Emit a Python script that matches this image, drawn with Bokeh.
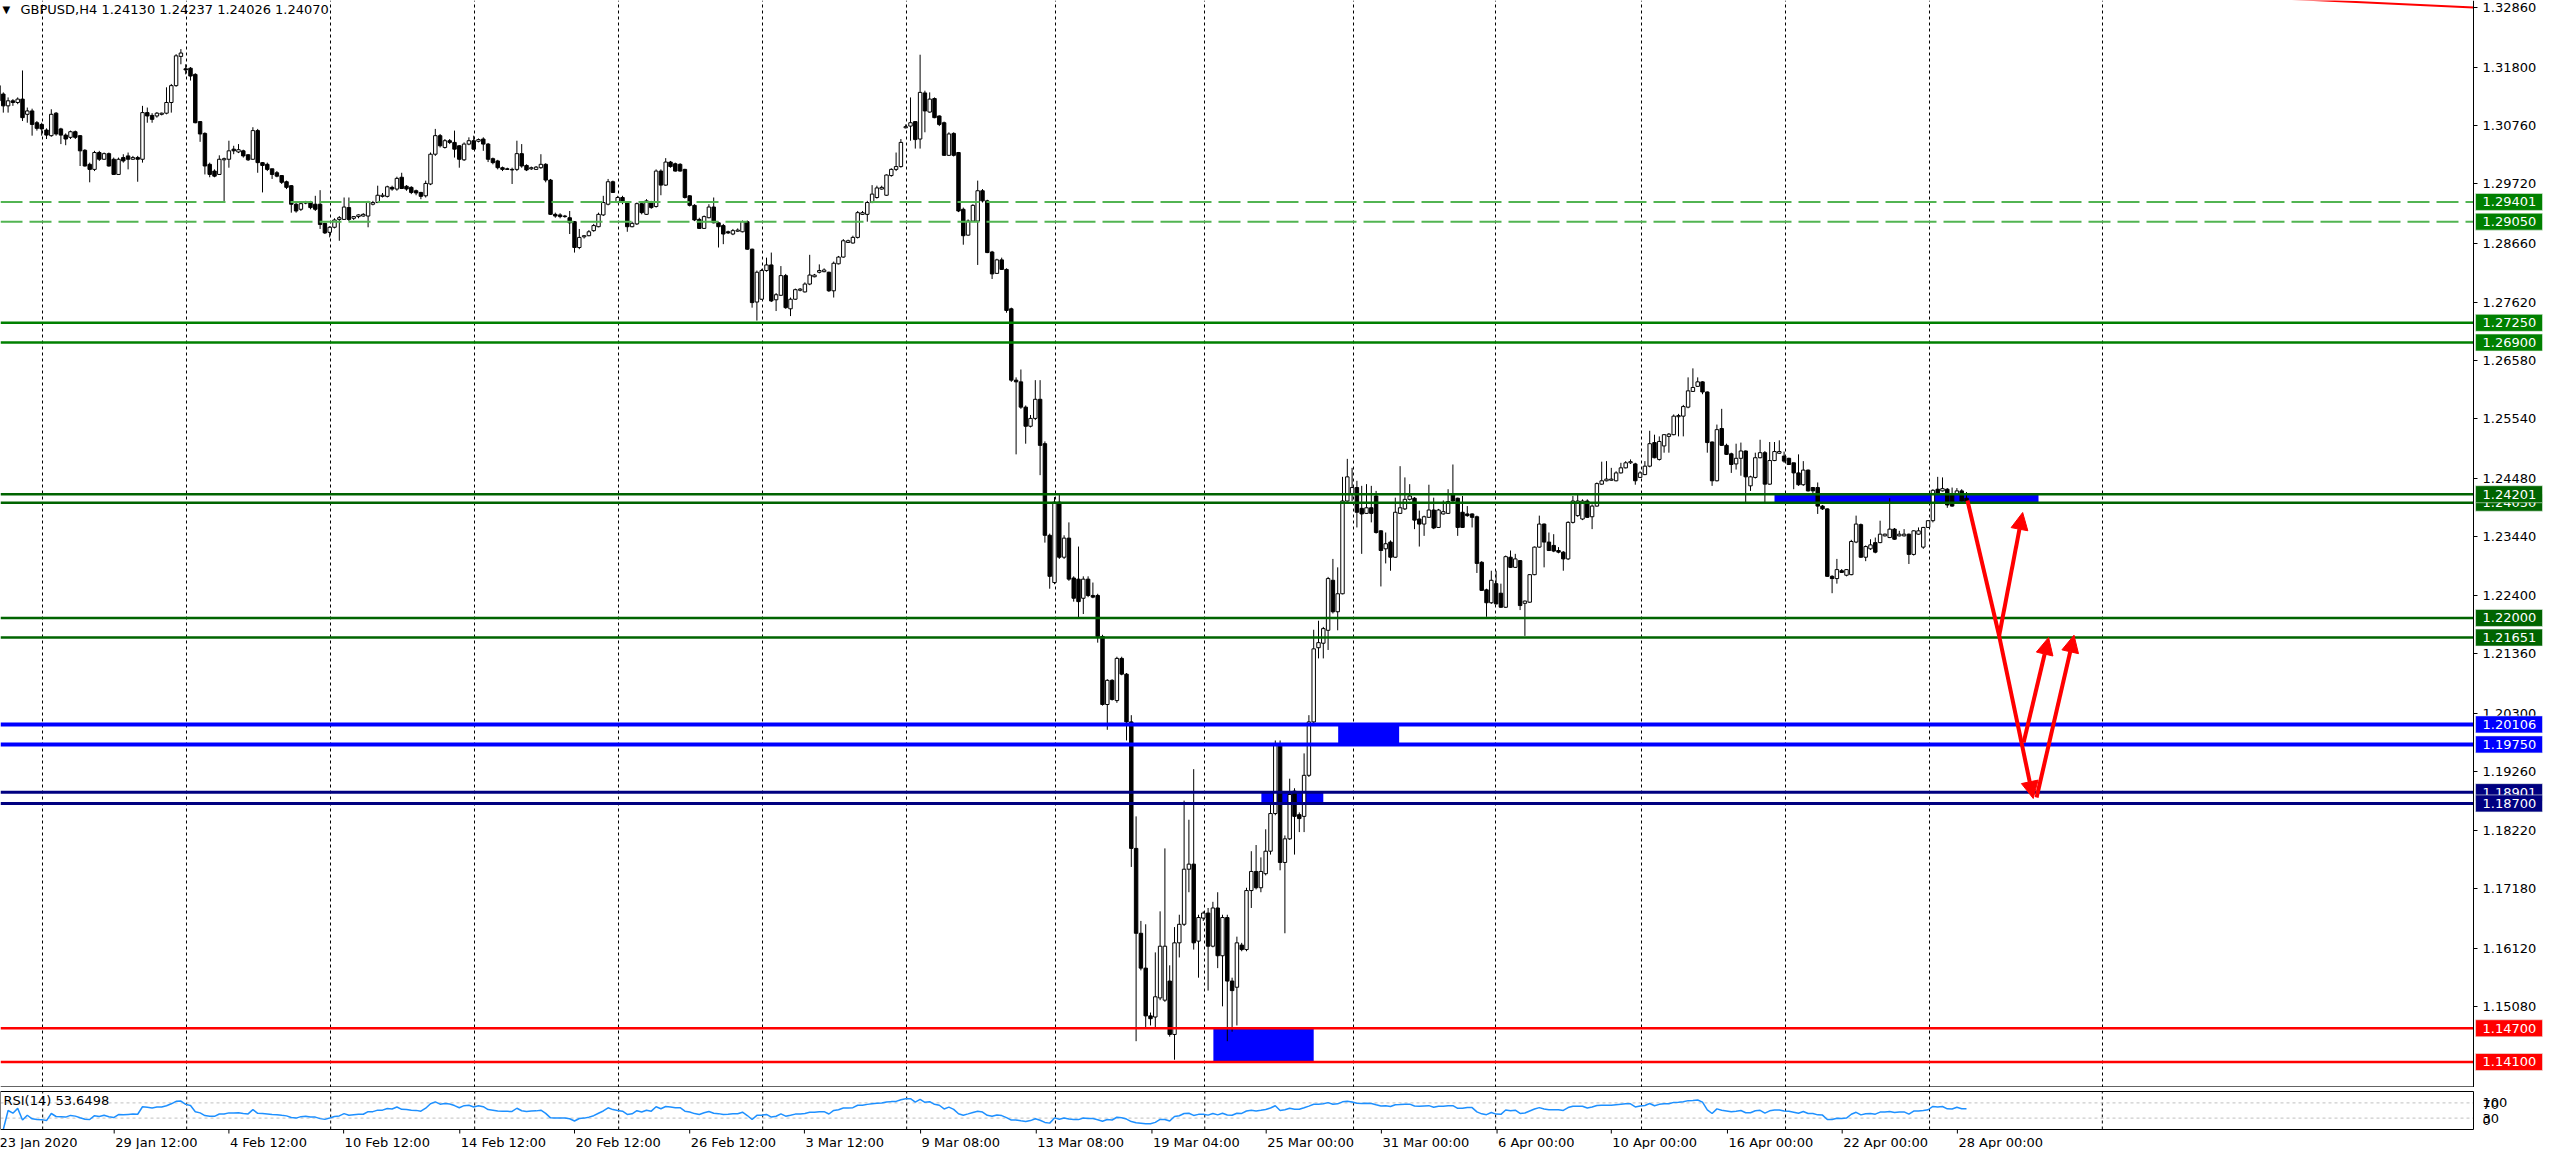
import math
from bokeh.plotting import figure
from bokeh.models import (Label, FixedTicker, PrintfTickFormatter, Grid,
                          Arrow, NormalHead, Range1d)
from bokeh.core.properties import value
from bokeh.layouts import column
from bokeh.embed import file_html
from bokeh.resources import INLINE

# ------------------------------------------------------------------ data
SYMBOL_TEXT = "GBPUSD,H4  1.24130 1.24237 1.24026 1.24070"
RSI_TEXT = "RSI(14) 53.6498"

# GBPUSD H4 candles, prices in 1/10000
open_pips = [
    13147,13132,13111,13120,13117,13123,13096,13102,13081,13078,
    13068,13058,13098,13070,13059,13055,13065,13058,13032,13007,
    12998,13028,13016,13026,13016,12989,13019,13022,13016,13019,
    13016,13099,13094,13093,13096,13098,13117,13147,13199,13177,
    13178,13167,13083,13062,13007,12995,12989,13015,13016,13034,
    13029,13031,13024,13016,13067,13010,13007,12999,12992,12987,
    12976,12969,12936,12927,12938,12940,12936,12936,12902,12886,
    12895,12909,12909,12930,12911,12914,12915,12915,12936,12939,
    12950,12950,12966,12963,12984,12968,12966,12960,12957,12951,
    12972,13025,13058,13037,13049,13046,13040,13015,13043,13049,
    13048,13052,13043,
    13017,13013,13001,12999,12998,12998,13026,
    13005,12999,12998,13001,13007,12979,12918,12917,12915,12912,
    12905,12859,12878,12880,12889,12896,12917,12936,12976,12939,
    12948,12939,12896,12901,12937,12918,12939,12932,12995,12970,
    13011,13008,13007,12998,12951,12934,12909,12893,12912,12931,
    12903,12898,12887,12883,12888,12887,12905,12856,12762,12767,
    12818,12828,12766,12774,12809,12750,12767,12783,12780,12794,
    12807,12815,12816,12815,12782,12830,12842,12868,12867,12877,
    12918,12918,12939,12948,12963,12952,12987,12998,13003,13072,
    13075,13083,13052,13134,13100,13124,13093,13081,13023,13062,
    13028,12927,12881,12906,12906,12960,12942,12851,12813,12837,
    12820,12750,12623,12620,12575,12541,12555,12589,12510,12347,
    12263,12406,12308,12342,12271,12269,12235,12269,12240,12240,
    12167,12046,12089,12053,12128,12100,12015,11790,11639,11577,
    11492,11490,11524,11520,11554,11459,11622,11655,11753,11762,
    11625,11666,11675,11616,11684,11599,11667,11554,11543,11618,
    11610,11715,11749,11720,11745,11785,11852,11976,11765,11807,
    11892,11850,11847,11920,12015,12147,12155,12178,12267,12211,
    12243,12408,12420,12432,12395,12386,12396,12417,12355,12323,
    12335,12308,12386,12394,12411,12413,12376,12367,12379,12392,
    12361,12385,12386,12419,12413,12388,12385,12385,12380,12299,
    12250,12227,12261,12244,12219,12308,12290,12302,12226,12228,
    12277,12326,12367,12335,12329,12320,12317,12305,12370,12382,
    12376,12408,12380,12399,12438,12444,12445,12444,12458,12467,
    12476,12474,12450,12455,12470,12512,12482,12506,12523,12526,
    12558,12559,12575,12603,12612,12620,12602,12513,12444,12537,
    12507,12492,12474,12484,12497,12435,12450,12485,12494,12438,
    12480,12493,12488,12484,12476,12458,12437,12463,12432,12432,
    12399,12394,12274,12270,12284,12276,12277,12335,12366,12308,
    12323,12334,12334,12346,12343,12358,12346,12346,12349,12313,
    12349,12326,12361,12373,12429,12426,12429,12420,12420,12426,12413,
]
high_pips = [
    13150,13135,13126,13123,13126,13174,13108,13106,13084,13081,
    13071,13105,13100,13072,13062,13067,13067,13059,13034,13010,
    13031,13031,13028,13028,13019,13019,13025,13028,13022,13022,
    13111,13108,13098,13100,13099,13144,13150,13203,13212,13185,
    13180,13169,13084,13064,13010,12998,13023,13019,13049,13040,
    13043,13033,13025,13073,13070,13011,13010,12999,12995,12988,
    12978,12970,12939,12939,12942,12942,12951,12961,12903,12897,
    12911,12915,12948,12948,12915,12918,12920,12942,12942,12969,
    12956,12969,12969,12985,12992,12970,12968,12962,12958,12978,
    13028,13070,13061,13052,13052,13067,13041,13046,13055,13058,
    13053,13055,13045,
    13019,13015,13003,13001,13001,13049,13043,
    13007,13003,13004,13025,13009,12981,12921,12920,12917,12924,
    12906,12892,12881,12890,12901,12921,12951,12981,12978,12951,
    12951,12940,12905,12939,12939,12945,12942,12998,12998,13018,
    13013,13010,13009,12999,12952,12936,12912,12916,12936,12948,
    12905,12901,12889,12892,12893,12907,12907,12857,12818,12821,
    12841,12850,12778,12826,12812,12770,12786,12787,12797,12846,
    12812,12829,12822,12816,12834,12844,12874,12873,12880,12924,
    12924,12942,12970,12969,12969,12989,13000,13028,13052,13078,
    13126,13084,13202,13138,13135,13126,13094,13083,13064,13064,
    13029,12930,12909,12936,12978,12963,12944,12853,12839,12841,
    12822,12752,12628,12642,12578,12561,12623,12623,12514,12350,
    12415,12420,12347,12370,12274,12327,12274,12274,12263,12243,
    12170,12091,12091,12131,12131,12102,12027,11847,11661,11655,
    11498,11605,11678,11790,11582,11650,11672,11875,11841,11931,
    11672,11678,11684,11695,11712,11672,11672,11560,11633,11622,
    11720,11785,11796,11774,11824,11869,11982,11982,11813,11914,
    11897,11854,11959,12027,12179,12195,12184,12273,12305,12290,
    12451,12483,12467,12444,12435,12438,12435,12426,12356,12352,
    12338,12414,12470,12450,12438,12415,12391,12382,12437,12414,
    12394,12409,12429,12473,12414,12417,12399,12386,12382,12301,
    12252,12284,12284,12261,12311,12320,12314,12303,12231,12278,
    12327,12382,12368,12352,12349,12326,12319,12372,12417,12420,
    12411,12411,12402,12441,12478,12479,12467,12461,12476,12479,
    12482,12476,12461,12479,12533,12526,12523,12527,12529,12562,
    12563,12579,12628,12644,12628,12621,12603,12514,12544,12572,
    12510,12494,12510,12512,12498,12453,12494,12517,12497,12513,
    12513,12516,12496,12485,12476,12491,12479,12464,12433,12441,
    12401,12395,12276,12305,12287,12287,12339,12382,12368,12329,
    12340,12343,12373,12350,12413,12360,12355,12358,12350,12356,
    12361,12362,12374,12429,12451,12450,12431,12432,12431,12429,12424,
]
low_pips = [
    13117,13099,13099,13111,13114,13084,13081,13058,13067,13058,
    13052,13056,13058,13043,13041,13052,13052,13004,13003,12975,
    12995,13013,13015,13003,12988,12988,13010,12998,13015,12976,
    13010,13081,13081,13090,13094,13096,13099,13145,13185,13167,
    13156,13080,13047,12989,12984,12984,12988,12941,13001,13025,
    13027,13019,13013,13015,12992,12957,12995,12981,12984,12972,
    12963,12921,12921,12924,12936,12927,12924,12892,12883,12877,
    12893,12871,12908,12906,12908,12911,12914,12895,12934,12938,
    12948,12948,12960,12960,12963,12960,12954,12952,12945,12948,
    12970,13022,13037,13035,13043,13019,13001,13013,13041,13033,
    13046,13031,13011,
    13007,12998,12995,12997,12972,12995,13001,
    12995,12997,12997,12999,12975,12917,12912,12911,12912,12883,
    12850,12856,12875,12879,12887,12895,12915,12934,12956,12938,
    12936,12887,12895,12899,12918,12917,12928,12930,12952,12969,
    13001,12994,12994,12946,12932,12906,12892,12892,12911,12902,
    12859,12865,12883,12881,12887,12886,12855,12752,12729,12766,
    12816,12762,12746,12773,12750,12737,12766,12781,12779,12792,
    12806,12813,12815,12780,12770,12829,12841,12867,12866,12875,
    12917,12905,12938,12946,12962,12951,12985,12995,13001,13071,
    13049,13035,13035,13064,13099,13089,13075,13022,13022,13021,
    12922,12864,12880,12905,12828,12939,12849,12803,12812,12819,
    12743,12620,12491,12572,12510,12539,12552,12454,12334,12252,
    12260,12305,12305,12266,12229,12201,12207,12237,12235,12156,
    12044,12001,12053,12049,12098,11982,11757,11447,11573,11472,
    11475,11470,11520,11517,11455,11414,11596,11652,11712,11610,
    11560,11661,11537,11614,11577,11509,11447,11464,11475,11607,
    11607,11684,11717,11712,11742,11779,11849,11751,11639,11805,
    11779,11819,11819,11917,12012,12128,12128,12143,12208,12178,
    12242,12407,12408,12361,12314,12385,12370,12350,12256,12297,
    12284,12307,12385,12392,12409,12358,12327,12346,12378,12358,
    12360,12384,12385,12407,12346,12360,12380,12361,12280,12248,
    12202,12225,12224,12218,12218,12289,12289,12214,12168,12227,
    12276,12325,12290,12319,12317,12315,12284,12303,12368,12380,
    12374,12378,12358,12398,12437,12443,12444,12443,12457,12466,
    12474,12437,12449,12454,12468,12484,12480,12494,12494,12525,
    12523,12523,12573,12602,12611,12598,12494,12435,12443,12506,
    12490,12458,12464,12453,12405,12426,12448,12484,12405,12437,
    12479,12492,12476,12472,12429,12435,12435,12425,12420,12385,
    12392,12273,12244,12261,12280,12274,12276,12333,12307,12301,
    12321,12315,12333,12345,12342,12339,12345,12345,12296,12311,
    12348,12323,12360,12370,12420,12425,12396,12398,12419,12407,12403,
]
close_pips = [
    13120,13111,13120,13117,13123,13090,13102,13078,13071,13070,
    13059,13096,13061,13059,13052,13065,13055,13031,13004,12998,
    13028,13016,13026,13004,12989,13016,13013,13016,13019,13016,
    13099,13093,13087,13098,13098,13117,13147,13200,13205,13175,
    13164,13081,13061,13004,12989,12986,13016,13017,13031,13031,
    13033,13022,13015,13067,13010,13005,12998,12989,12986,12975,
    12966,12936,12924,12937,12940,12930,12927,12900,12885,12895,
    12908,12912,12931,12909,12914,12917,12918,12939,12939,12952,
    12952,12967,12963,12982,12964,12963,12957,12956,12950,12973,
    13025,13058,13040,13049,13046,13034,13016,13043,13049,13034,
    13051,13043,13016,
    13010,13001,12998,12998,12997,13026,13004,
    12997,13001,13002,13007,12979,12918,12915,12914,12914,12903,
    12859,12877,12880,12887,12898,12918,12939,12976,12957,12948,
    12939,12896,12902,12937,12921,12942,12930,12995,12970,13011,
    13003,12995,12995,12948,12934,12908,12893,12914,12931,12903,
    12896,12883,12885,12889,12890,12905,12856,12761,12815,12818,
    12828,12764,12775,12809,12752,12767,12784,12785,12794,12810,
    12810,12818,12819,12782,12831,12842,12871,12871,12877,12921,
    12921,12939,12954,12965,12966,12988,12998,13003,13046,13074,
    13081,13051,13135,13102,13123,13090,13078,13023,13061,13023,
    12924,12880,12906,12934,12960,12942,12850,12812,12837,12820,
    12747,12623,12620,12575,12541,12555,12589,12507,12347,12274,
    12406,12308,12342,12269,12235,12229,12269,12240,12237,12167,
    12046,12089,12055,12128,12100,12015,11790,11639,11577,11492,
    11487,11526,11616,11616,11459,11622,11655,11753,11762,11622,
    11667,11675,11616,11684,11599,11667,11554,11537,11622,11610,
    11715,11749,11720,11749,11785,11852,11976,11765,11807,11886,
    11847,11843,11920,12015,12145,12156,12181,12270,12211,12243,
    12408,12451,12432,12388,12385,12396,12386,12352,12320,12332,
    12308,12388,12396,12411,12417,12374,12367,12380,12392,12360,
    12392,12389,12407,12408,12361,12361,12382,12379,12297,12249,
    12227,12267,12225,12219,12309,12290,12305,12222,12230,12277,
    12326,12367,12335,12320,12319,12317,12305,12370,12408,12408,
    12408,12379,12399,12439,12444,12447,12447,12458,12467,12476,
    12478,12444,12458,12470,12510,12485,12514,12526,12527,12559,
    12560,12576,12604,12610,12620,12602,12512,12444,12535,12507,
    12491,12473,12484,12497,12451,12451,12485,12494,12438,12480,
    12496,12496,12479,12473,12458,12437,12463,12426,12426,12399,
    12394,12274,12270,12286,12281,12286,12336,12367,12308,12327,
    12330,12317,12349,12349,12358,12340,12349,12349,12313,12355,
    12355,12361,12373,12427,12421,12430,12401,12399,12426,12408,12407,
]

price_ticks = [1.32860, 1.31800, 1.30760, 1.29720, 1.28660, 1.27620, 1.26580,
               1.25540, 1.24480, 1.23440, 1.22400, 1.21360, 1.20300, 1.19260,
               1.18220, 1.17180, 1.16120, 1.15080]

time_labels = ["23 Jan 2020", "29 Jan 12:00", "4 Feb 12:00", "10 Feb 12:00",
               "14 Feb 12:00", "20 Feb 12:00", "26 Feb 12:00", "3 Mar 12:00",
               "9 Mar 08:00", "13 Mar 08:00", "19 Mar 04:00", "25 Mar 00:00",
               "31 Mar 00:00", "6 Apr 00:00", "10 Apr 00:00", "16 Apr 00:00",
               "22 Apr 00:00", "28 Apr 00:00"]
time_label_bars = [0, 24.1, 48, 71.9, 96.1, 120, 144, 167.9, 192.1, 216.2,
                   240.3, 264.1, 288.1, 312.2, 336, 360.2, 384.1, 408.1]
week_start_bars = [9.2, 39.2, 69.2, 99.2, 129.2, 159.2, 189.2, 220.2, 251.3,
                   282.3, 311.9, 342.3, 372.3, 402.3, 438.3]

dashed_levels = [1.29401, 1.29050]
green_levels = [1.27250, 1.26900]
darkgreen_levels = [1.24050, 1.24201, 1.22000, 1.21651]
blue_levels = [1.20106, 1.19750]
navy_levels = [1.18901, 1.18700]
red_levels = [1.14700, 1.14100]

zone_left = [370.0, 279.1, 263.1, 253.1]
zone_right = [425.0, 291.8, 276.0, 274.0]
zone_bottom = [1.24050, 1.19750, 1.18700, 1.14100]
zone_top = [1.24201, 1.20106, 1.18901, 1.14700]

path_bars = [410.2, 416.8, 423.9]
path_prices = [1.24089, 1.21682, 1.18788]
arrow_x0 = [416.8, 421.9, 424.6, 416.8]
arrow_y0 = [1.21682, 1.19784, 1.18806, 1.21682]
arrow_x1 = [421.7, 427.1, 432.4, 423.9]
arrow_y1 = [1.23876, 1.21652, 1.21693, 1.18788]

trend_bars = [470.6, 515.6]
trend_prices = [1.33040, 1.32860]

rsi_levels = [70, 30]

# ------------------------------------------------------------------ layout
FONT = "DejaVu Sans"
X_START, X_EDGE, X_END = 0.4167, 515.625, 530.208   # frame left, chart edge, canvas right
Y_LOW, Y_HIGH = 1.136463, 1.329845
PX_PRICE = 1.0 / 5621.0       # one pixel in price units
BOX_L, BOX_R = 516.05, 530.0  # price-box extent (bar units, on the axis strip)
BOX_HALF = 8.5 * PX_PRICE
AXIS_TEXT_X = 517.5           # left edge of axis texts

n = min(len(open_pips), len(high_pips), len(low_pips), len(close_pips))
xs = list(range(n))
O = [v / 1e4 for v in open_pips[:n]]
H = [v / 1e4 for v in high_pips[:n]]
L = [v / 1e4 for v in low_pips[:n]]
C = [v / 1e4 for v in close_pips[:n]]

bull = dict(x=[], top=[], bottom=[])
bear = dict(x=[], top=[], bottom=[])
for i in xs:
    if C[i] >= O[i]:
        bull["x"].append(i); bull["top"].append(C[i]); bull["bottom"].append(O[i])
    else:
        bear["x"].append(i); bear["top"].append(O[i]); bear["bottom"].append(C[i])

# RSI(14), Wilder smoothing of the closes
rsi = [float("nan")]
ag = al = 0.0
gains, losses = [], []
for i in range(1, n):
    ch = C[i] - C[i - 1]
    g, l = max(ch, 0.0), max(-ch, 0.0)
    if i <= 14:
        gains.append(g); losses.append(l)
        ag = sum(gains) / len(gains); al = sum(losses) / len(losses)
    else:
        ag = (ag * 13 + g) / 14; al = (al * 13 + l) / 14
    rsi.append(100.0 if al == 0 else 100 - 100 / (1 + ag / al))

x_range = Range1d(X_START, X_END)

# ------------------------------------------------------------------ main chart
p = figure(width=2543, height=1087, x_range=x_range, y_range=Range1d(Y_LOW, Y_HIGH),
           x_axis_location=None, y_axis_location="right", toolbar_location=None,
           output_backend="svg", min_border_left=0, min_border_right=0,
           min_border_top=0, min_border_bottom=0, outline_line_color=None,
           background_fill_color="white", border_fill_color="white")
p.xgrid.visible = False
p.ygrid.visible = False
p.add_layout(Grid(dimension=0, ticker=FixedTicker(ticks=week_start_bars),
                  grid_line_color="black", grid_line_dash="3 3", grid_line_width=1))

yax = p.yaxis[0]
yax.fixed_location = X_EDGE
yax.ticker = FixedTicker(ticks=price_ticks)
yax.formatter = PrintfTickFormatter(format="%.5f")
yax.major_label_text_font = FONT
yax.major_label_text_font_size = "13px"
yax.major_label_text_color = "black"
yax.major_tick_out = 4
yax.major_tick_in = 0
yax.minor_tick_out = 0
yax.minor_tick_in = 0
yax.major_label_standoff = 5
yax.axis_line_color = "black"

# bottom border of the price pane
p.segment(x0=[X_START], x1=[X_EDGE], y0=[Y_LOW + 0.6 * PX_PRICE], y1=[Y_LOW + 0.6 * PX_PRICE],
          line_color="black", line_width=1)

p.quad(left=zone_left, right=zone_right, bottom=zone_bottom, top=zone_top,
       fill_color="#0000ff", line_color=None)

p.segment(x0=xs, y0=L, x1=xs, y1=H, line_color="black", line_width=1)
p.vbar(x=bull["x"], top=bull["top"], bottom=bull["bottom"], width=0.72,
       fill_color="white", line_color="black", line_width=1)
p.vbar(x=bear["x"], top=bear["top"], bottom=bear["bottom"], width=0.72,
       fill_color="black", line_color="black", line_width=1)


def hlines(levels, color, width, dash="solid"):
    p.segment(x0=[X_START] * len(levels), x1=[X_EDGE] * len(levels), y0=levels, y1=levels,
              line_color=color, line_width=width, line_dash=dash)


hlines(dashed_levels, "#52b452", 2, "22 7")
hlines(green_levels, "#008000", 2.5)
hlines(darkgreen_levels, "#006400", 2.5)
hlines(blue_levels, "#0000ff", 4)
hlines(navy_levels, "#000080", 3)
hlines(red_levels, "#ff0000", 2.5)

p.line(trend_bars, trend_prices, line_color="#ff0000", line_width=2)

p.line(path_bars[:2], path_prices[:2], line_color="#ff0000", line_width=4)
for x0, y0, x1, y1 in zip(arrow_x0, arrow_y0, arrow_x1, arrow_y1):
    p.add_layout(Arrow(end=NormalHead(size=17, fill_color="#ff0000", line_color="#ff0000"),
                       x_start=x0, y_start=y0, x_end=x1, y_end=y1,
                       line_color="#ff0000", line_width=4))

# price boxes on the axis strip (drawn above the axis labels, in order)
box_groups = [(dashed_levels, "#008000"), (green_levels, "#008000"),
              (darkgreen_levels, "#006400"), (blue_levels, "#0000ff"),
              (navy_levels, "#000080"), (red_levels, "#ff0000")]
for levels, col in box_groups:
    for lv in levels:
        p.quad(left=[BOX_L], right=[BOX_R], bottom=[lv - BOX_HALF], top=[lv + BOX_HALF],
               fill_color=col, line_color="#e8f0e8", line_width=0.6, level="overlay")
        p.text(x=[AXIS_TEXT_X], y=[lv], text=["%.5f" % lv], text_align="left",
               text_baseline="middle", text_font=value(FONT), text_font_size="13px",
               text_color="white", level="overlay")

# header
p.add_layout(Label(x=0.83, y=1.32830, text="\u25bc", text_font=FONT, text_font_size="10px",
                   text_baseline="middle", text_color="black"))
p.add_layout(Label(x=4.58, y=1.32830, text=SYMBOL_TEXT, text_font=FONT,
                   text_font_size="13px", text_baseline="middle", text_color="black"))

# ------------------------------------------------------------------ RSI panel
RSI_PX = 100.0 / 38.0            # RSI units per pixel
p2 = figure(width=2543, height=62, x_range=x_range,
            y_range=Range1d(-20 * RSI_PX, 100 + 4 * RSI_PX),
            x_axis_location=None, y_axis_location=None, toolbar_location=None,
            output_backend="svg", min_border_left=0, min_border_right=0,
            min_border_top=0, min_border_bottom=0, outline_line_color=None,
            background_fill_color="white", border_fill_color="white")
p2.xgrid.visible = False
p2.ygrid.visible = False

p2.segment(x0=week_start_bars, x1=week_start_bars, y0=[0] * len(week_start_bars),
           y1=[100] * len(week_start_bars), line_color="black", line_dash="3 3", line_width=1)
p2.segment(x0=[X_START] * 2, x1=[X_EDGE] * 2, y0=rsi_levels, y1=rsi_levels,
           line_color="#c0c0c0", line_dash="3 3", line_width=1)
p2.line(xs, rsi, line_color="#1e90ff", line_width=1.5)
p2.quad(left=[X_START], right=[X_EDGE], bottom=[0], top=[100], fill_color=None,
        line_color="black", line_width=1)
# time-axis tick marks
p2.segment(x0=time_label_bars, x1=time_label_bars, y0=[0] * len(time_label_bars),
           y1=[-4 * RSI_PX] * len(time_label_bars), line_color="black", line_width=1)

for xb, t in zip(time_label_bars, time_labels):
    p2.add_layout(Label(x=xb, y=-5 * RSI_PX, text=t, text_align="left", text_baseline="top",
                        x_offset=1, text_font=FONT, text_font_size="13px",
                        text_color="black"))
for val, t in ((71, "100"), (66, "70"), (29, "30"), (24, "0")):
    p2.add_layout(Label(x=AXIS_TEXT_X, y=val, text=t, text_align="left",
                        text_baseline="middle", text_font=FONT, text_font_size="13px",
                        text_color="black"))
p2.add_layout(Label(x=1.04, y=76, text=RSI_TEXT, text_align="left", text_baseline="middle",
                    text_font=FONT, text_font_size="13px", text_color="black"))

layout = column(p, p2, spacing=0)
open("out.html", "w").write(file_html(layout, INLINE, title="GBPUSD,H4"))
